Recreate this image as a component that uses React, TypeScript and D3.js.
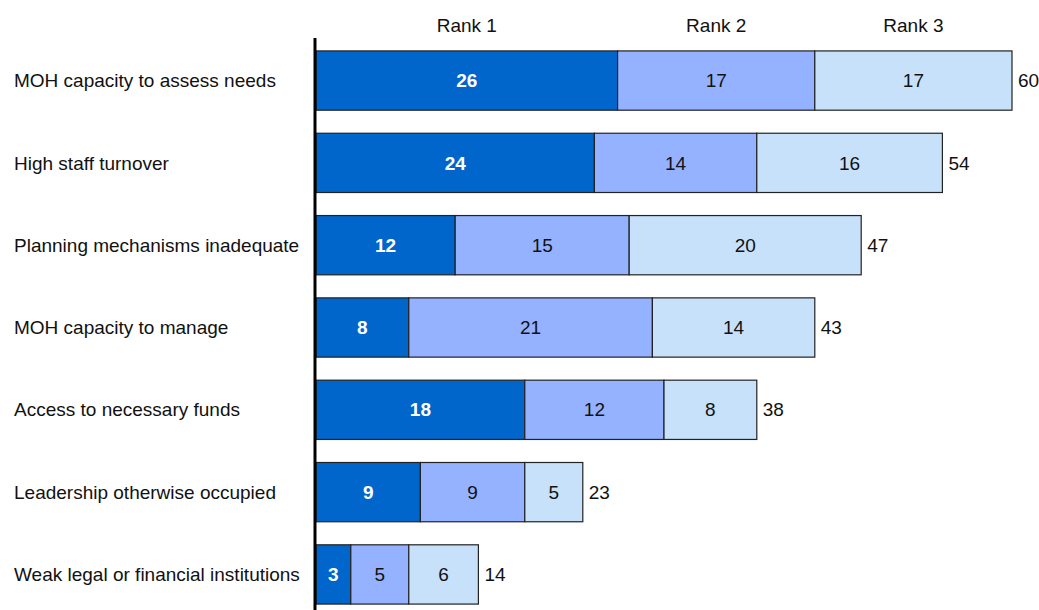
import React from 'react';
import * as d3 from 'd3';

const categories = [
  'MOH capacity to assess needs',
  'High staff turnover',
  'Planning mechanisms inadequate',
  'MOH capacity to manage',
  'Access to necessary funds',
  'Leadership otherwise occupied',
  'Weak legal or financial institutions',
];
const rank1 = [26, 24, 12, 8, 18, 9, 3];
const rank2 = [17, 14, 15, 21, 12, 9, 5];
const rank3 = [17, 16, 20, 14, 8, 5, 6];
const seriesNames = ['Rank 1', 'Rank 2', 'Rank 3'];
const seriesColors = ['#0066cc', '#94b2ff', '#c8e1fa'];
const labelColors = ['#ffffff', '#111111', '#111111'];

const width = 1039;
const height = 610;
const font = 'Liberation Sans, Arial, Helvetica, sans-serif';
const fs = 19;

const App = () => {
  const rows = categories.map((c, i) => ({ cat: c, vals: [rank1[i], rank2[i], rank3[i]] }));

  const x = d3.scaleLinear().domain([0, 60]).range([316, 1012]);
  const y = d3.scaleBand().domain(categories).range([39.4, 615.6]).paddingInner(0.28).paddingOuter(0.14);

  const stack = d3.stack<{ cat: string; vals: number[] }, number>()
    .keys([0, 1, 2])
    .value((d, k) => d.vals[k]);
  const layers = stack(rows);

  const top = layers.map(l => l[0]);

  return (
    <svg width={width} height={height} style={{ position: 'absolute', left: 0, top: 0, background: '#fff' }} fontFamily={font}>
      {/* column headers over the first bar */}
      {seriesNames.map((s, k) => (
        <text key={s} x={(x(top[k][0]) + x(top[k][1])) / 2} y={32} textAnchor="middle" fontSize={fs} fill="#111">
          {s}
        </text>
      ))}

      {layers.map((layer, k) => (
        <g key={k}>
          {layer.map((d, i) => {
            const x0 = x(d[0]);
            const x1 = x(d[1]);
            const yy = y(categories[i])!;
            return (
              <g key={i}>
                <rect x={x0} y={yy} width={x1 - x0} height={y.bandwidth()} fill={seriesColors[k]} stroke="#222" strokeWidth={1.2} />
                <text
                  x={(x0 + x1) / 2}
                  y={yy + y.bandwidth() / 2}
                  dy="0.35em"
                  textAnchor="middle"
                  fontSize={fs}
                  fontWeight={k === 0 ? 'bold' : 'normal'}
                  fill={labelColors[k]}
                >
                  {rows[i].vals[k]}
                </text>
              </g>
            );
          })}
        </g>
      ))}

      {/* totals */}
      {rows.map((r, i) => {
        const total = d3.sum(r.vals);
        return (
          <text key={r.cat} x={x(total) + 6} y={y(r.cat)! + y.bandwidth() / 2} dy="0.35em" fontSize={fs} fill="#111">
            {total}
          </text>
        );
      })}

      {/* category labels */}
      {rows.map(r => (
        <text key={r.cat} x={14} y={y(r.cat)! + y.bandwidth() / 2} dy="0.35em" fontSize={fs} fill="#111">
          {r.cat}
        </text>
      ))}

      <line x1={315} x2={315} y1={38} y2={height} stroke="#000" strokeWidth={3} />
    </svg>
  );
};

export default App;
